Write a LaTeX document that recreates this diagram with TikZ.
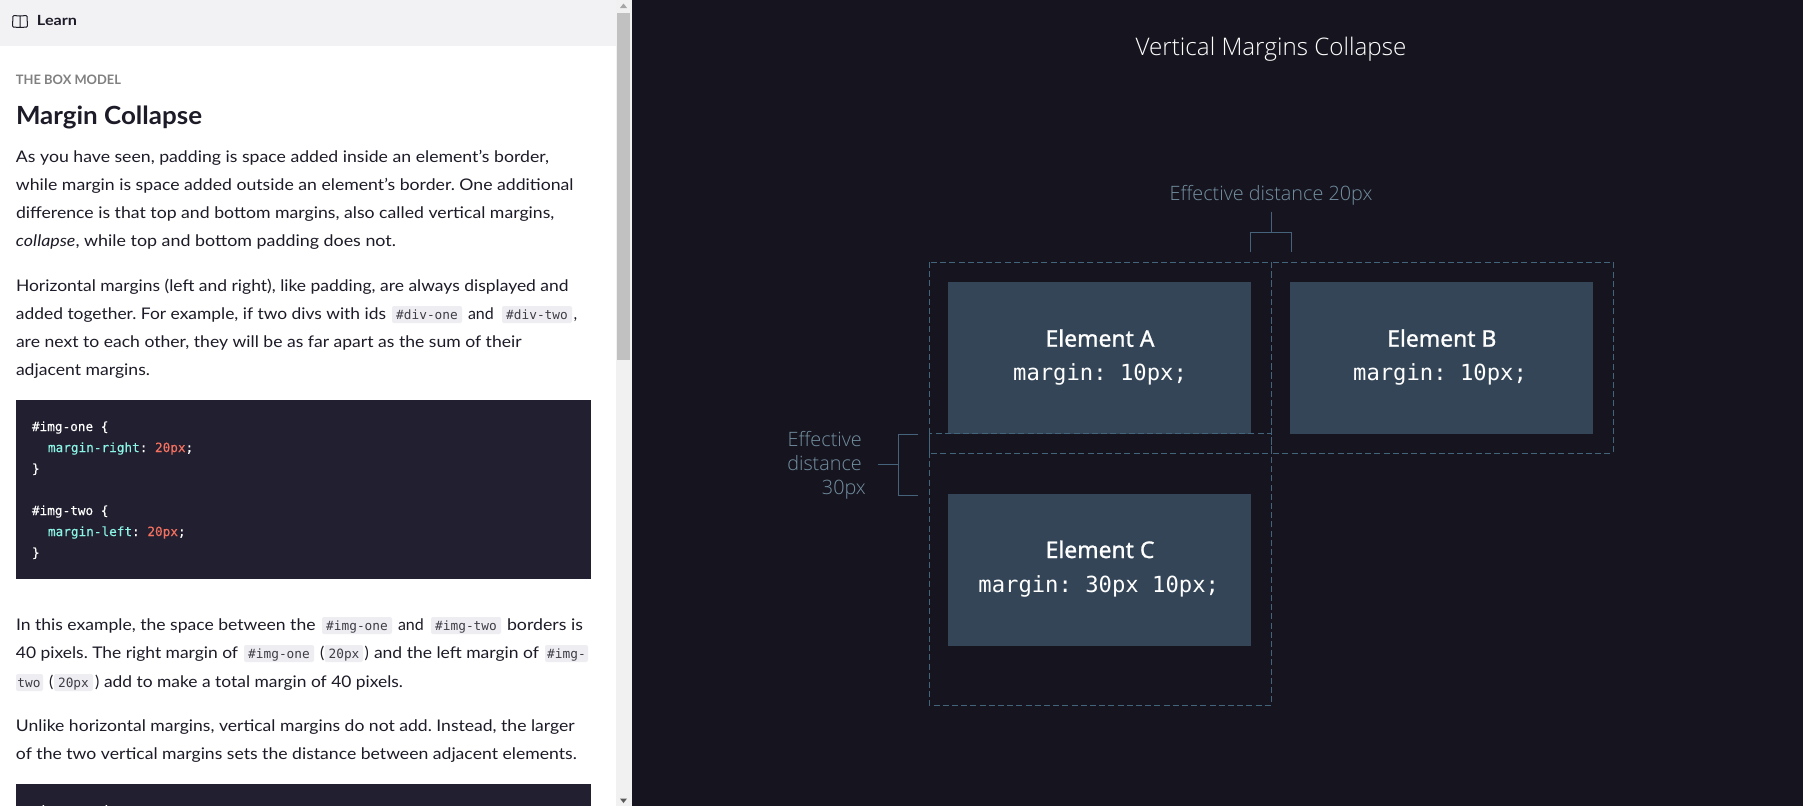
\documentclass[tikz,border=0pt]{standalone}
\usepackage{fontspec}
\usepackage{graphicx}
\setmainfont{Lato}
\newfontfamily\lightf{Open Sans Light}
\newfontfamily\semif{Noto Sans}[FakeBold=1.1]
\newfontfamily\monof{DejaVu Sans Mono}
\newfontfamily\codef{DejaVu Sans Mono}[FakeBold=0.3]
\AtBeginDocument{\frenchspacing}
\definecolor{panel}{HTML}{16151F}
\definecolor{elem}{HTML}{334557}
\definecolor{dashc}{HTML}{42657B}
\definecolor{brack}{HTML}{45637A}
\definecolor{lab}{HTML}{7390A2}
\definecolor{ink}{HTML}{1C1B27}
\definecolor{codebg}{HTML}{211F30}
\definecolor{chip}{HTML}{EEEEF2}
\definecolor{head}{HTML}{F2F2F4}
\definecolor{scrollbg}{HTML}{F1F1F1}
\definecolor{thumb}{HTML}{C1C1C1}
\definecolor{codeteal}{HTML}{8BF5E6}
\definecolor{codered}{HTML}{F4705F}
\tikzset{
 txt/.style={anchor=base west,inner sep=0pt,outer sep=0pt,text=ink,font=\fontsize{16}{16}\selectfont},
 codetxt/.style={anchor=base west,inner sep=0pt,outer sep=0pt,text=white,font=\codef\fontsize{12.7}{12.7}\selectfont},
 chiptxt/.style={anchor=base,inner sep=0pt,outer sep=0pt,text=ink!85,font=\monof\fontsize{12.8}{12.8}\selectfont},
 elembox/.style={fill=elem,draw=none,inner sep=0pt,outer sep=0pt,minimum width=303pt,minimum height=151.5pt},
 dashbox/.style={draw=dashc,line width=1pt,dash pattern=on 6pt off 3.2pt},
 bracket/.style={draw=brack,line width=1pt},
 elname/.style={anchor=base,inner sep=0pt,text=white,font=\semif\fontsize{22.9}{22.9}\selectfont},
 elcode/.style={anchor=base,inner sep=0pt,text=white,font=\monof\fontsize{22.2}{22.2}\selectfont},
 effl/.style={anchor=base east,inner sep=0pt,text=lab,font=\lightf\fontsize{19.8}{19.8}\selectfont},
}
\newcommand\fit[2]{\resizebox{#1pt}{\height}{#2}}
\begin{document}
\begin{tikzpicture}[x=1pt,y=-1pt]
\useasboundingbox (0,0) rectangle (1803,806);
\fill[white] (0,0) rectangle (616,806);
\fill[head] (0,0) rectangle (616,46);
\fill[scrollbg] (616,0) rectangle (632,806);
\fill[thumb] (617,13) rectangle (630,360);
\fill[gray!70] (620,8) -- (623.5,3.5) -- (627,8) -- cycle;
\fill[gray!70!black] (620,798.5) -- (623.5,803) -- (627,798.5) -- cycle;
\fill[panel] (632,0) rectangle (1803,806);
% book icon
\draw[ink,line width=1pt,rounded corners=1pt] (20,16) -- (13,15.5) -- (12.5,27) -- (20,27.5) -- (27.5,27) -- (27,15.5) -- cycle (20,16) -- (20,27.5);
\node[txt,font=\bfseries\fontsize{14}{14}\selectfont] (learn) at (37,25) {\fit{40}{Learn}};
\node[txt,text=gray,font=\bfseries\fontsize{13}{13}\selectfont] (sect) at (16,84) {\fit{105}{THE BOX MODEL}};
\node[txt,font=\bfseries\fontsize{25}{25}\selectfont] (title) at (16,124) {\fit{186}{Margin Collapse}};
\node[txt] (p1a) at (16,162) {\fit{533}{As you have seen, padding is space added inside an element’s border,}};
\node[txt] (p1b) at (16,190) {\fit{557.5}{while margin is space added outside an element’s border. One additional}};
\node[txt] (p1c) at (16,218) {\fit{538.3}{difference is that top and bottom margins, also called vertical margins,}};
\node[txt] (p1d) at (16,246) {\fit{380}{\textit{collapse}, while top and bottom padding does not.}};
\node[txt] (p2a) at (16,291) {\fit{552.6}{Horizontal margins (left and right), like padding, are always displayed and}};
\node[txt] (p2b) at (16,319) {\fit{370}{added together. For example, if two divs with ids}};
\fill[chip,rounded corners=2pt] (392,306) rectangle (462,323);
\node[chiptxt] (c1) at (427,319) {\#div-one};
\node[txt] (p2c) at (468,319) {and};
\fill[chip,rounded corners=2pt] (502,306) rectangle (572,323);
\node[chiptxt] (c2) at (537,319) {\#div-two};
\node[txt] (p2d) at (573.5,319) {,};
\node[txt] (p2e) at (16,347) {\fit{505.6}{are next to each other, they will be as far apart as the sum of their}};
\node[txt] (p2f) at (16,375) {\fit{134}{adjacent margins.}};
% code block 1
\fill[codebg] (16,400) rectangle (591,579);
\node[codetxt] (k1) at (32,431) {\#img-one \{};
\node[codetxt,text=codeteal] (k2) at (48,452) {margin-right\textcolor{white}{:} \textcolor{codered}{20px}\textcolor{white}{;}};
\node[codetxt] (k3) at (32,473) {\}};
\node[codetxt] (k4) at (32,515) {\#img-two \{};
\node[codetxt,text=codeteal] (k5) at (48,536) {margin-left\textcolor{white}{:} \textcolor{codered}{20px}\textcolor{white}{;}};
\node[codetxt] (k6) at (32,557) {\}};
% paragraph 3
\node[txt] (p3a) at (16,630) {\fit{299.5}{In this example, the space between the}};
\fill[chip,rounded corners=2pt] (322,617) rectangle (392,634);
\node[chiptxt] (c3) at (357,630) {\#img-one};
\node[txt] (p3b) at (398,630) {and};
\fill[chip,rounded corners=2pt] (431,617) rectangle (501,634);
\node[chiptxt] (c4) at (466,630) {\#img-two};
\node[txt] (p3c) at (507,630) {\fit{76}{borders is}};
\node[txt] (p3d) at (16,658) {\fit{222}{40 pixels. The right margin of}};
\fill[chip,rounded corners=2pt] (244,645) rectangle (314,662);
\node[chiptxt] (c5) at (279,658) {\#img-one};
\node[txt] (p3e) at (320,658) {(};
\fill[chip,rounded corners=2pt] (324.5,645) rectangle (363,662);
\node[chiptxt] (c6) at (344,658) {20px};
\node[txt] (p3f) at (364.5,658) {)};
\node[txt] (p3g) at (374,658) {\fit{165}{and the left margin of}};
\fill[chip,rounded corners=2pt] (545,645) rectangle (588,662);
\node[chiptxt] (c7) at (566.5,658) {\#img-};
\fill[chip,rounded corners=2pt] (16,674) rectangle (43,691);
\node[chiptxt] (c8) at (29,687) {two};
\node[txt] (p3h) at (49,687) {(};
\fill[chip,rounded corners=2pt] (54,674) rectangle (93,691);
\node[chiptxt] (c9) at (73.5,687) {20px};
\node[txt] (p3i) at (95,687) {)};
\node[txt] (p3j) at (104,687) {\fit{299}{add to make a total margin of 40 pixels.}};
\node[txt] (p4a) at (16,731) {\fit{558.7}{Unlike horizontal margins, vertical margins do not add. Instead, the larger}};
\node[txt] (p4b) at (16,759) {\fit{560.7}{of the two vertical margins sets the distance between adjacent elements.}};
\fill[codebg] (16,784) rectangle (591,806);
\fill[white] (42.5,805) rectangle (44,806) (105.5,805) rectangle (107,806);
% right panel
\node[anchor=base,inner sep=0pt,text=white,font=\lightf\fontsize{24.2}{24.2}\selectfont] (vt) at (1271,55) {Vertical Margins Collapse};
\node[elembox,anchor=north west] (A) at (948.3,282) {};
\node[elembox,anchor=north west] (B) at (1290.3,282) {};
\node[elembox,anchor=north west] (C) at (948.3,494) {};
\node[elname] (An) at (1100,346.7) {Element A};
\node[elcode] (Am) at (1100,380) {margin: 10px;};
\node[elname] (Bn) at (1441.8,346.7) {Element B};
\node[elcode] (Bm) at (1440,380) {margin: 10px;};
\node[elname] (Cn) at (1100,558) {Element C};
\node[elcode] (Cm) at (1098.7,592) {margin: 30px 10px;};
\draw[dashbox] (929,262) rectangle (1271,453);
\draw[dashbox] (1271,262) rectangle (1613,453);
\draw[dashbox] (929,433.5) rectangle (1271,705);
\node[anchor=base,inner sep=0pt,text=lab,font=\lightf\fontsize{19.8}{19.8}\selectfont] (e20) at (1271,200.7) {Effective distance 20px};
\draw[bracket] (1271,211.7) -- (1271,232);
\draw[bracket] (1250.7,252.3) -- (1250.7,232) -- (1291,232) -- (1291,252.3);
\draw[bracket] (878.3,464.7) -- (898,464.7);
\draw[bracket] (918.3,434.3) -- (898,434.3) -- (898,495) -- (918.3,495);
\node[effl] (e1) at (862,446) {Effective};
\node[effl] (e2) at (862,470.7) {distance};
\node[effl] (e3) at (866,494.7) {30px};
\end{tikzpicture}
\end{document}
